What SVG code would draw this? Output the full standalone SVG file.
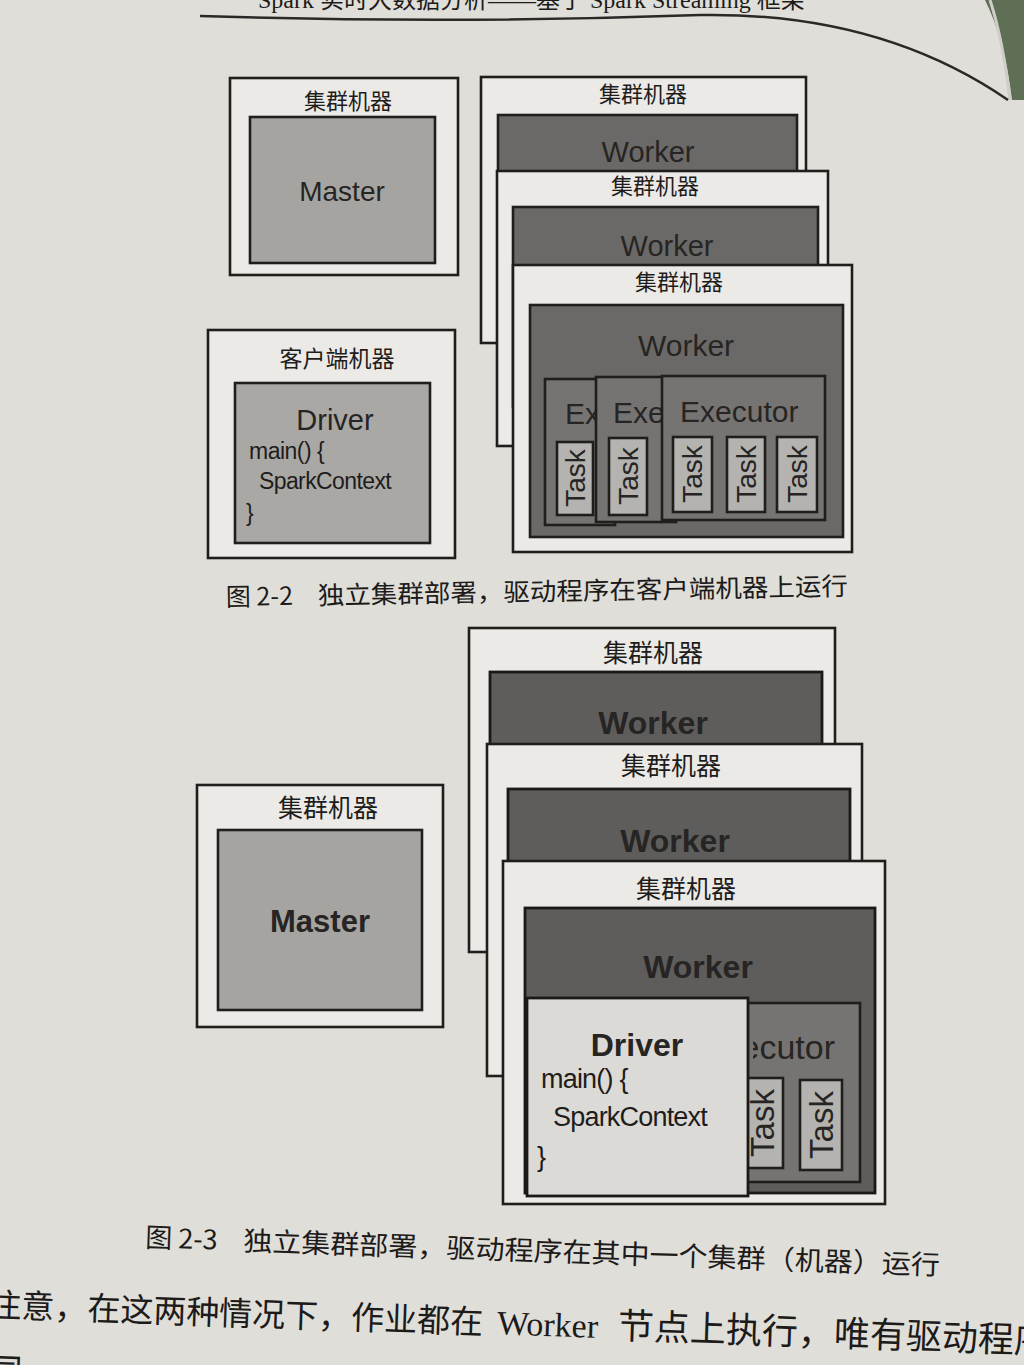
<svg xmlns="http://www.w3.org/2000/svg" width="1024" height="1365" viewBox="0 0 1024 1365">
<defs>
<style>
.box{fill:#eceae6;stroke:#1f1e1d;stroke-width:2.6}
.master{fill:#a5a4a1;stroke:#1f1e1d;stroke-width:2.6}
.worker{fill:#6b6967;stroke:#1f1e1d;stroke-width:2.6}
.worker2{fill:#5f5d5b;stroke:#1a1918;stroke-width:2.8}
.exec{fill:#767472;stroke:#1f1e1d;stroke-width:2.6}
.task{fill:#b4b3af;stroke:#1f1e1d;stroke-width:2.6}
.driver{fill:#a9a8a5;stroke:#1f1e1d;stroke-width:2.6}
.driver2{fill:#dcdad6;stroke:#1a1918;stroke-width:2.8}
.cn{font-family:"Noto Sans CJK SC",sans-serif;fill:#1e1d1c;text-anchor:middle}
.lbl{font-family:"Liberation Sans",Arial,sans-serif;fill:#262524;text-anchor:middle}
.lbls{font-family:"Liberation Sans",Arial,sans-serif;fill:#262524;text-anchor:start}
.lble{font-family:"Liberation Sans",Arial,sans-serif;fill:#262524;text-anchor:end}
.code{font-family:"Liberation Sans",Arial,sans-serif;fill:#1e1d1c}
.cap{font-family:"Noto Sans CJK SC",sans-serif;fill:#1c1b1a}
.body{font-family:"Liberation Serif","Noto Sans CJK SC",serif;fill:#1c1b1a}
</style>
<clipPath id="clipEx1"><rect x="546" y="380" width="49" height="60"/></clipPath>
<clipPath id="clipEx2"><rect x="597" y="378" width="64" height="60"/></clipPath>
<clipPath id="clipEx3"><rect x="753" y="1004" width="106" height="70"/></clipPath>
</defs>
<rect x="0" y="0" width="1024" height="1365" fill="#e0ded9"/>
<path d="M985,0 Q1005,40 1012,100 L1024,100 L1024,0 Z" fill="#5e6f56"/>
<path d="M990,0 Q1003,40 1010,100" fill="none" stroke="#cfcdc8" stroke-width="3"/>

<g id="header">
<text x="258" y="8" class="body" font-size="24">Spark 实时大数据分析——基于 Spark Streaming 框架</text>
<path d="M200,16 Q450,24 700,15 Q880,12 1008,100" fill="none" stroke="#2a2928" stroke-width="2.5"/>
</g>

<g id="connectors"></g>

<!-- Figure 2-2 -->
<g id="f22-master-machine">
<rect class="box" x="230" y="78" width="228" height="197"/>
<text class="cn" x="348" y="109" font-size="22">集群机器</text>
<rect class="master" x="250" y="117" width="185" height="146"/>
<text class="lbl" x="342" y="201" font-size="28">Master</text>
</g>

<g id="f22-client-machine">
<rect class="box" x="208" y="330" width="247" height="228"/>
<text class="cn" x="337" y="367" font-size="23">客户端机器</text>
<rect class="driver" x="235" y="383" width="195" height="160"/>
<text class="lbl" x="335" y="430" font-size="29">Driver</text>
<text class="code" x="249" y="459" font-size="23" letter-spacing="-0.5">main() {</text>
<text class="code" x="259" y="489" font-size="23" letter-spacing="-0.6">SparkContext</text>
<text class="code" x="246" y="521" font-size="23">}</text>
</g>

<g id="f22-worker-machine-1">
<rect class="box" x="481" y="77" width="325" height="266"/>
<text class="cn" x="643" y="102" font-size="22">集群机器</text>
<rect class="worker" x="498" y="115" width="299" height="200"/>
<text class="lbl" x="648" y="162" font-size="29">Worker</text>
</g>

<g id="f22-worker-machine-2">
<rect class="box" x="497" y="171" width="331" height="275"/>
<text class="cn" x="655" y="194" font-size="22">集群机器</text>
<rect class="worker" x="513" y="207" width="305" height="200"/>
<text class="lbl" x="667" y="256" font-size="29">Worker</text>
</g>

<g id="f22-worker-machine-3">
<rect class="box" x="513" y="265" width="339" height="287"/>
<text class="cn" x="679" y="290" font-size="22">集群机器</text>
<rect class="worker" x="530" y="305" width="313" height="232"/>
<text class="lbl" x="686" y="356" font-size="30">Worker</text>
<g id="f22-executor-1">
<rect class="exec" x="545" y="379" width="70" height="146"/>
<text class="lbls" x="565" y="424" font-size="30" clip-path="url(#clipEx1)">Ex</text>
<rect class="task" x="557" y="442" width="36" height="73"/>
<text class="lbl" transform="translate(575,478) rotate(-90)" dy="0.36em" font-size="28">Task</text>
</g>
<g id="f22-executor-2">
<rect class="exec" x="596" y="377" width="80" height="145"/>
<text class="lbls" x="613" y="423" font-size="30" clip-path="url(#clipEx2)">Exe</text>
<rect class="task" x="609" y="438" width="38" height="77"/>
<text class="lbl" transform="translate(628,476) rotate(-90)" dy="0.36em" font-size="28">Task</text>
</g>
<g id="f22-executor-3">
<rect class="exec" x="662" y="376" width="163" height="144"/>
<text class="lbls" x="680" y="422" font-size="30">Executor</text>
<rect class="task" x="673" y="437" width="39" height="75"/>
<text class="lbl" transform="translate(692,474) rotate(-90)" dy="0.36em" font-size="28">Task</text>
<rect class="task" x="727" y="437" width="38" height="75"/>
<text class="lbl" transform="translate(746,474) rotate(-90)" dy="0.36em" font-size="28">Task</text>
<rect class="task" x="777" y="437" width="40" height="75"/>
<text class="lbl" transform="translate(797,474) rotate(-90)" dy="0.36em" font-size="28">Task</text>
</g>
</g>

<g id="f22-caption">
<text class="cap" transform="rotate(-1 226 605)" x="226" y="606" font-size="25"><tspan>图 2-2</tspan><tspan x="318" textLength="530" lengthAdjust="spacingAndGlyphs">独立集群部署，驱动程序在客户端机器上运行</tspan></text>
</g>

<!-- Figure 2-3 -->
<g id="f23-master-machine">
<rect class="box" x="197" y="785" width="246" height="242"/>
<text class="cn" x="328" y="817" font-size="25">集群机器</text>
<rect class="master" x="218" y="830" width="204" height="180"/>
<text class="lbl" x="320" y="932" font-size="31" font-weight="bold">Master</text>
</g>

<g id="f23-worker-machine-1">
<rect class="box" x="469" y="628" width="366" height="324"/>
<text class="cn" x="653" y="662" font-size="25">集群机器</text>
<rect class="worker2" x="490" y="672" width="332" height="200"/>
<text class="lbl" x="653" y="734" font-size="32" font-weight="bold">Worker</text>
</g>

<g id="f23-worker-machine-2">
<rect class="box" x="487" y="744" width="375" height="332"/>
<text class="cn" x="671" y="775" font-size="25">集群机器</text>
<rect class="worker2" x="508" y="789" width="342" height="200"/>
<text class="lbl" x="675" y="852" font-size="32" font-weight="bold">Worker</text>
</g>

<g id="f23-worker-machine-3">
<rect class="box" x="503" y="861" width="382" height="343"/>
<text class="cn" x="686" y="898" font-size="25">集群机器</text>
<rect class="worker2" x="525" y="908" width="350" height="285"/>
<text class="lbl" x="698" y="978" font-size="32" font-weight="bold">Worker</text>
<g id="f23-executor">
<rect class="exec" x="700" y="1003" width="160" height="179"/>
<text class="lble" x="835" y="1059" font-size="34" clip-path="url(#clipEx3)">Executor</text>
<rect class="task" x="741" y="1078" width="42" height="90"/>
<text class="lbl" transform="translate(762,1123) rotate(-90)" dy="0.36em" font-size="33">Task</text>
<rect class="task" x="800" y="1080" width="42" height="90"/>
<text class="lbl" transform="translate(821,1125) rotate(-90)" dy="0.36em" font-size="33">Task</text>
</g>
<g id="f23-driver">
<rect class="driver2" x="527" y="998" width="221" height="198"/>
<text class="lbl" x="637" y="1056" font-size="32" font-weight="bold">Driver</text>
<text class="code" x="541" y="1088" font-size="27" letter-spacing="-0.8">main() {</text>
<text class="code" x="553" y="1126" font-size="27" letter-spacing="-0.8">SparkContext</text>
<text class="code" x="537" y="1166" font-size="27">}</text>
</g>
</g>

<g id="f23-caption">
<text class="cap" transform="rotate(2 145 1247)" x="145" y="1247" font-size="27"><tspan>图 2-3</tspan><tspan x="243" textLength="697" lengthAdjust="spacingAndGlyphs">独立集群部署，驱动程序在其中一个集群（机器）运行</tspan></text>
</g>

<g id="body-text">
<text class="body" transform="rotate(2 0 1317)" x="-12" y="1317" font-size="33"><tspan>注意，在这两种情况下，作业都在</tspan><tspan x="497" font-size="34">Worker</tspan><tspan x="618" font-size="36">节点上执行，唯有驱动程序</tspan></text>
<text class="body" transform="rotate(2 0 1383)" x="-12" y="1383" font-size="34">同。</text>
</g>
</svg>
